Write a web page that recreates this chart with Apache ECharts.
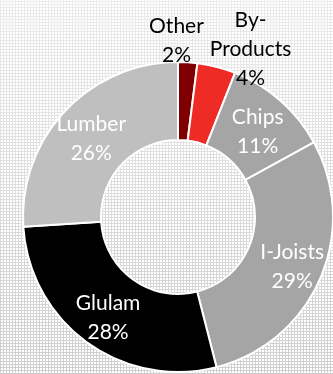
<!DOCTYPE html>
<html>
<head>
<meta charset="utf-8">
<script src="https://cdn.jsdelivr.net/npm/echarts@6/dist/echarts.min.js"></script>
<style>
  html, body { margin: 0; padding: 0; }
  body {
    width: 333px; height: 374px; overflow: hidden;
    background-color: #ffffff;
    background-image:
      linear-gradient(to bottom, rgba(255,255,255,0.6), rgba(255,255,255,0)),
      repeating-linear-gradient(90deg, #cfcfcf 0 1px, transparent 1px 3px),
      repeating-linear-gradient(0deg, #cfcfcf 0 1px, transparent 1px 3px);
  }
  #chart { width: 333px; height: 374px; }
</style>
</head>
<body>
<div id="chart"></div>
<script>
// Share of output by product line (percent)
const categories = ['Other', 'By-Products', 'Chips', 'I-Joists', 'Glulam', 'Lumber'];
const shares = [2, 4, 11, 29, 28, 26];
const sliceColors = ['#7f0000', '#ee2b24', '#a5a5a5', '#a5a5a5', '#000000', '#bfbfbf'];
const labelColors = ['#000000', '#000000', '#ffffff', '#ffffff', '#ffffff', '#ffffff'];
// small nudges; the thin slices carry their labels above the ring
const labelOffsets = [[-9, -58], [43, -53], [1, 4], [5, 2], [0, 4], [0, 3]];

const chart = echarts.init(document.getElementById('chart'), null, { renderer: 'canvas' });

chart.setOption({
  backgroundColor: 'transparent',
  animation: false,
  series: [{
    type: 'pie',
    center: [178, 217],
    radius: [77, 155],
    startAngle: 90,
    clockwise: true,
    avoidLabelOverlap: false,
    itemStyle: { borderColor: '#ffffff', borderWidth: 2 },
    label: {
      show: true,
      position: 'inside',
      fontFamily: 'Lato',
      fontSize: 21,
      lineHeight: 29,
      formatter: p => (p.name === 'By-Products' ? 'By-\nProducts' : p.name) + '\n' + p.value + '%'
    },
    labelLine: { show: false },
    emphasis: { disabled: true },
    data: categories.map((name, i) => ({
      name: name,
      value: shares[i],
      itemStyle: { color: sliceColors[i] },
      label: { color: labelColors[i], offset: labelOffsets[i] }
    }))
  }]
});
</script>
</body>
</html>
